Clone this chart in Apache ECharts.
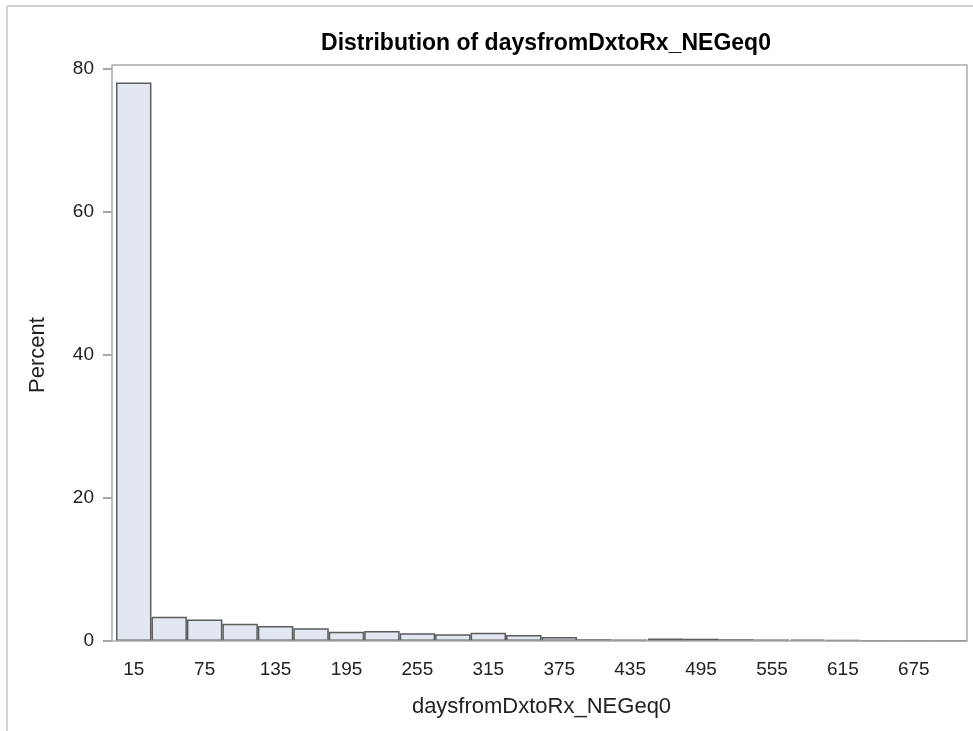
<!DOCTYPE html>
<html lang="en">
<head>
    <meta charset="UTF-8">
    <title>Distribution of daysfromDxtoRx_NEGeq0</title>
    <script src="https://cdn.jsdelivr.net/npm/echarts@6/dist/echarts.min.js"></script>
    <style>
        html, body, #chart {
            width: 973px;
            height: 731px;
            padding: 0;
            margin: 0;
            background: #fff;
        }
    </style>
</head>
<body>
<div id="chart"></div>
<script>
    // bin midpoints (width 30) and percent per bin
    var binMids = ["15", "45", "75", "105", "135", "165", "195", "225", "255", "285", "315", "345",
        "375", "405", "435", "465", "495", "525", "555", "585", "615", "645", "675", "705"];
    var percents = [78.1, 3.4, 3.0, 2.4, 2.1, 1.8, 1.3, 1.4, 1.1, 0.95, 1.15, 0.85,
        0.55, 0.25, 0.2, 0.35, 0.3, 0.25, 0.2, 0.2, 0.15, 0.05, 0.05, 0.05];
    var yTicks = [0, 20, 40, 60, 80];

    var font = "Liberation Sans, Arial, sans-serif";
    var myChart = echarts.init(document.getElementById("chart"));

    myChart.setOption({
        animation: false,
        title: {
            text: "Distribution of daysfromDxtoRx_NEGeq0",
            left: 541,
            top: 27,
            textAlign: "center",
            textStyle: {
                fontFamily: font,
                fontSize: 23,
                fontWeight: "bold",
                color: "#000"
            }
        },
        grid: {
            left: 116,
            right: 6,
            top: 69,
            bottom: 90
        },
        graphic: [
            // outer panel border (top and left edges)
            {type: "line", shape: {x1: 7, y1: 6, x2: 973, y2: 6}, style: {stroke: "#d2d2d2", lineWidth: 2}},
            {type: "line", shape: {x1: 7, y1: 6, x2: 7, y2: 731}, style: {stroke: "#d2d2d2", lineWidth: 2}},
            // plot frame
            {
                type: "rect", z: 10,
                shape: {x: 112, y: 65, width: 855, height: 576},
                style: {fill: null, stroke: "#a9adb0", lineWidth: 1.5}
            }
        ],
        xAxis: {
            type: "category",
            data: binMids,
            name: "daysfromDxtoRx_NEGeq0",
            nameLocation: "middle",
            nameGap: 55,
            nameTextStyle: {fontFamily: font, fontSize: 22, color: "#222"},
            axisLine: {show: false},
            axisTick: {
                alignWithLabel: true,
                interval: 1,
                length: 9,
                lineStyle: {color: "#8a8a8a", width: 1.5}
            },
            axisLabel: {
                interval: 1,
                margin: 19,
                fontFamily: font,
                fontSize: 19,
                color: "#222"
            },
            splitLine: {show: false}
        },
        yAxis: {
            type: "value",
            min: yTicks[0],
            max: yTicks[yTicks.length - 1],
            interval: yTicks[1] - yTicks[0],
            offset: 4,
            name: "Percent",
            nameLocation: "middle",
            nameGap: 63,
            nameTextStyle: {fontFamily: font, fontSize: 22, color: "#222"},
            axisLine: {show: false},
            axisTick: {show: true, length: 9, lineStyle: {color: "#8a8a8a", width: 1.5}},
            axisLabel: {
                margin: 18,
                fontFamily: font,
                fontSize: 19,
                color: "#222"
            },
            splitLine: {show: false}
        },
        series: [{
            type: "bar",
            data: percents,
            barCategoryGap: "0%",
            itemStyle: {
                color: "#e2e7f1",
                borderColor: "#5c5c5c",
                borderWidth: 1.5
            },
            silent: true
        }]
    });
</script>
</body>
</html>
